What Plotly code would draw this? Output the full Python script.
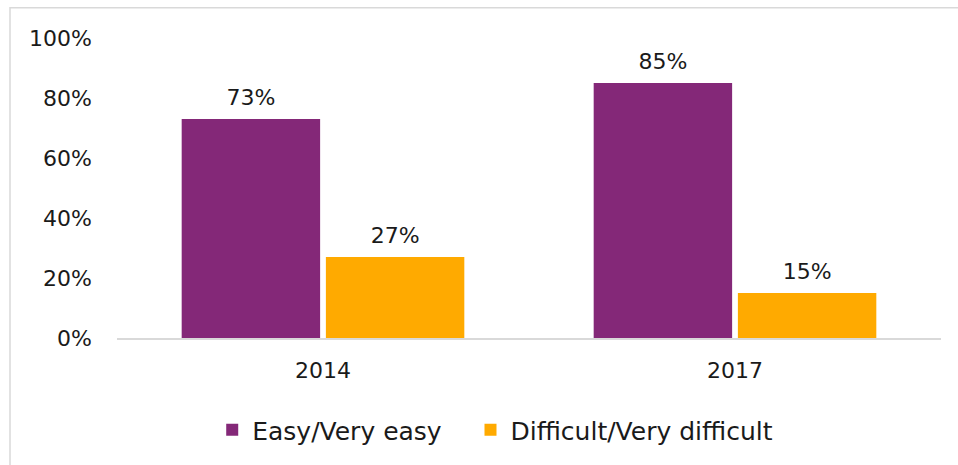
import plotly.graph_objects as go

categories = ["2014", "2017"]
easy = [0.73, 0.85]
difficult = [0.27, 0.15]
series_names = ["Easy/Very easy", "Difficult/Very difficult"]
tick_vals = [0, 0.2, 0.4, 0.6, 0.8, 1.0]
tick_text = ["0%", "20%", "40%", "60%", "80%", "100%"]

PURPLE = "#842878"
ORANGE = "#FFAA00"
FONT = "DejaVu Sans"
TXT = "#1a1a1a"
NUM_SIZE = 22
LEG_SIZE = 25
LEG_PAD = "\u00a0\u00a0\u00a0"

fig = go.Figure()
series = [(series_names[0], easy, PURPLE, "a"), (series_names[1], difficult, ORANGE, "b")]
for i, (name, vals, col, grp) in enumerate(series):
    fig.add_trace(go.Bar(
        name=name + (LEG_PAD if i == 0 else ""), x=categories, y=vals, offsetgroup=grp,
        marker=dict(color=col, line=dict(width=0)),
    ))
for name, vals, col, grp in series:
    fig.add_trace(go.Scatter(
        x=categories, y=vals, offsetgroup=grp, mode="text+markers",
        marker=dict(size=12, opacity=0),
        text=[f"{round(v*100)}%" for v in vals], textposition="top center",
        textfont=dict(family=FONT, size=NUM_SIZE, color=TXT),
        showlegend=False, hoverinfo="skip", cliponaxis=False,
    ))

fig.update_layout(
    width=958, height=465,
    margin=dict(l=117, r=17, t=38, b=125),
    paper_bgcolor="white", plot_bgcolor="white",
    barmode="group", bargap=0.30, bargroupgap=0.04,
    scattermode="group", scattergap=0.30,
    font=dict(family=FONT, size=NUM_SIZE, color=TXT),
    showlegend=True,
    legend=dict(orientation="h", x=0.459, xanchor="center", y=-0.23, yanchor="top",
                font=dict(family=FONT, size=LEG_SIZE, color=TXT),
                traceorder="normal"),
    xaxis=dict(showgrid=False, showline=True, linecolor="#d9d9d9", linewidth=2,
               ticks="", tickfont=dict(family=FONT, size=NUM_SIZE, color=TXT), ticklabelstandoff=12),
    yaxis=dict(range=[0, 1], tickvals=tick_vals, ticktext=tick_text, showgrid=False,
               showline=False, zeroline=False, ticks="",
               tickfont=dict(family=FONT, size=NUM_SIZE, color=TXT), ticklabelstandoff=24),
    shapes=[dict(type="rect", xref="paper", yref="paper",
                 x0=(10 - 117) / 824, x1=1.2, y0=-0.6, y1=1 + (38 - 7.5) / 302,
                 line=dict(color="#d9d9d9", width=1.5), fillcolor="rgba(0,0,0,0)", layer="below")],
)

fig.write_html("out.html", post_script="document.body.style.margin='0';",
               config={"displayModeBar": False})
